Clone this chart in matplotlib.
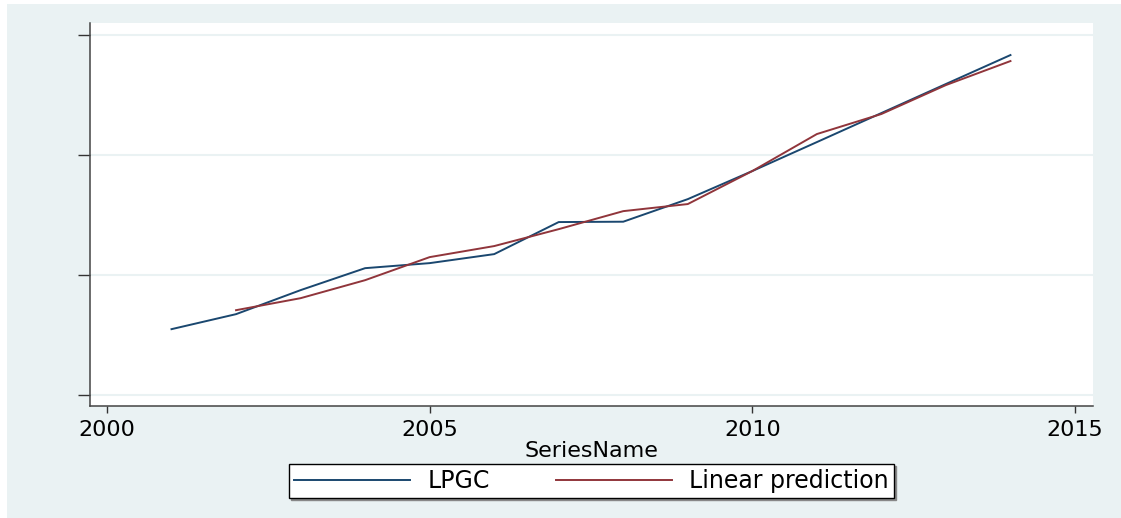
import matplotlib
matplotlib.use('Agg')
import matplotlib.pyplot as plt
from matplotlib.patches import Rectangle

# data (y in tick units, ticks unlabeled)
years = [2001, 2002, 2003, 2004, 2005, 2006, 2007, 2008, 2009, 2010, 2011, 2012, 2013, 2014]
lpgc = [0.55, 0.675, 0.875, 1.058, 1.10, 1.175, 1.442, 1.445, 1.633, 1.867, 2.108, 2.35, 2.592, 2.833]
pred_years = [2002, 2003, 2004, 2005, 2006, 2007, 2008, 2009, 2010, 2011, 2012, 2013, 2014]
linpred = [0.708, 0.808, 0.958, 1.15, 1.242, 1.383, 1.533, 1.592, 1.867, 2.175, 2.342, 2.583, 2.783]
xticks = [2000, 2005, 2010, 2015]
yticks = [0, 1, 2, 3]

W, H = 1121, 518
BG = '#eaf2f3'
NAVY = '#1a476f'
MAROON = '#90353b'

plt.rcParams['font.family'] = ['DejaVu Sans']

fig = plt.figure(figsize=(W / 100, H / 100), dpi=100, facecolor='white')
# stata style outer region, kept behind the axes
fig.add_artist(Rectangle((7 / W, 0), 1 - 7 / W, (H - 4) / H,
                         transform=fig.transFigure, facecolor=BG,
                         edgecolor='none', zorder=-5))

ax = fig.add_axes([90 / W, 1 - 406 / H, (1093 - 90) / W, (406 - 23) / H])
ax.set_facecolor('white')

ax.plot(years, lpgc, color=NAVY, lw=1.4, label='LPGC', zorder=3)
ax.plot(pred_years, linpred, color=MAROON, lw=1.4, label='Linear prediction', zorder=3)

ax.set_xlim(1999.737, 2015.279)
ax.set_ylim(-0.09, 3.10)
ax.set_xticks(xticks)
ax.set_yticks(yticks)
ax.set_yticklabels([])
ax.yaxis.grid(True, color=BG, lw=1.5)
ax.set_axisbelow(True)

for side in ['top', 'right']:
    ax.spines[side].set_visible(False)
for side in ['left', 'bottom']:
    ax.spines[side].set_color('#444444')
    ax.spines[side].set_linewidth(1.1)

ax.tick_params(axis='x', length=5, width=1, color='#333333', pad=5, labelsize=16)
ax.tick_params(axis='y', length=8.5, width=1, color='#333333')
ax.set_xlabel('SeriesName', fontsize=16, labelpad=1)

fig.legend(loc='center', bbox_to_anchor=(591.5 / W, 1 - 481 / H), ncol=2,
           fontsize=17, frameon=True, fancybox=False, edgecolor='black',
           facecolor='white', framealpha=1, borderpad=0.2,
           handlelength=4.9, handletextpad=0.75, columnspacing=2.8,
           shadow={'ox': 1.5, 'oy': -1.5, 'color': '#888888', 'alpha': 1})

fig.savefig('out.png', dpi=100, facecolor=fig.get_facecolor())
